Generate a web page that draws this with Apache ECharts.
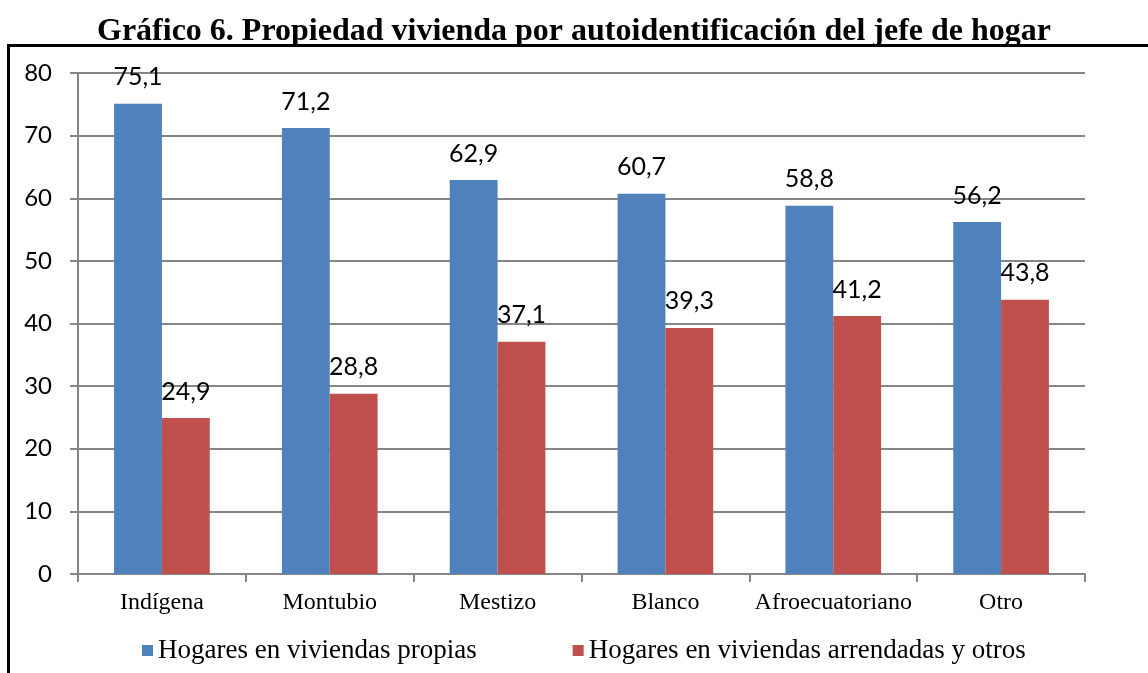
<!DOCTYPE html>
<html><head><meta charset="utf-8">
<script src="https://cdn.jsdelivr.net/npm/echarts@6/dist/echarts.min.js"></script>
<style>html,body{margin:0;padding:0;background:#fff}#c{width:1148px;height:673px}</style>
</head><body><div id="c"></div>
<script>
var categories = ['Indígena','Montubio','Mestizo','Blanco','Afroecuatoriano','Otro'];
var propias = [75.1, 71.2, 62.9, 60.7, 58.8, 56.2];
var arrendadas = [24.9, 28.8, 37.1, 39.3, 41.2, 43.8];
var seriesNames = ['Hogares en viviendas propias','Hogares en viviendas arrendadas y otros'];
var titleText = 'Gráfico 6. Propiedad vivienda por autoidentificación del jefe de hogar';

var chart = echarts.init(document.getElementById('c'));
var lbl = {show:true, position:'top', distance:14, color:'#000', fontFamily:'Lato, "Open Sans", sans-serif', fontSize:25,
  formatter:function(p){return p.value.toFixed(1).replace('.',',');}};
chart.setOption({
  animation:false,
  title:{text:titleText, left:'center', top:11, textStyle:{fontFamily:'"Liberation Serif", serif', fontWeight:'bold', fontSize:32, color:'#000'}},
  graphic:[
    {type:'line', shape:{x1:7,y1:45.5,x2:1148,y2:45.5}, style:{stroke:'#000', lineWidth:3}},
    {type:'line', shape:{x1:8.5,y1:44,x2:8.5,y2:673}, style:{stroke:'#000', lineWidth:3}}
  ],
  grid:{left:78, right:63, top:73, bottom:99},
  legend:{bottom:4, left:137, itemWidth:11, itemHeight:11, itemGap:96, icon:'rect',
    textStyle:{fontFamily:'"Liberation Serif", serif', fontSize:27, color:'#000'}},
  xAxis:{type:'category', data:categories,
    axisLine:{lineStyle:{color:'#868686', width:2}},
    axisTick:{show:true, length:8, lineStyle:{color:'#868686', width:2}},
    axisLabel:{interval:0, fontFamily:'"Liberation Serif", serif', fontSize:24, color:'#000', margin:17}},
  yAxis:{type:'value', min:0, max:80, interval:10,
    axisLine:{show:true, lineStyle:{color:'#868686', width:2}},
    axisTick:{show:true, length:8, lineStyle:{color:'#868686', width:2}},
    splitLine:{lineStyle:{color:'#868686', width:2}},
    axisLabel:{fontFamily:'Lato, "Open Sans", sans-serif', fontSize:24, color:'#000', margin:26}},
  series:[
    {name:seriesNames[0], type:'bar', data:propias, barGap:'0%', barCategoryGap:'43%', itemStyle:{color:'#4F81BD'}, label:lbl},
    {name:seriesNames[1], type:'bar', data:arrendadas, itemStyle:{color:'#C0504D'}, label:lbl}
  ]
});
</script></body></html>
